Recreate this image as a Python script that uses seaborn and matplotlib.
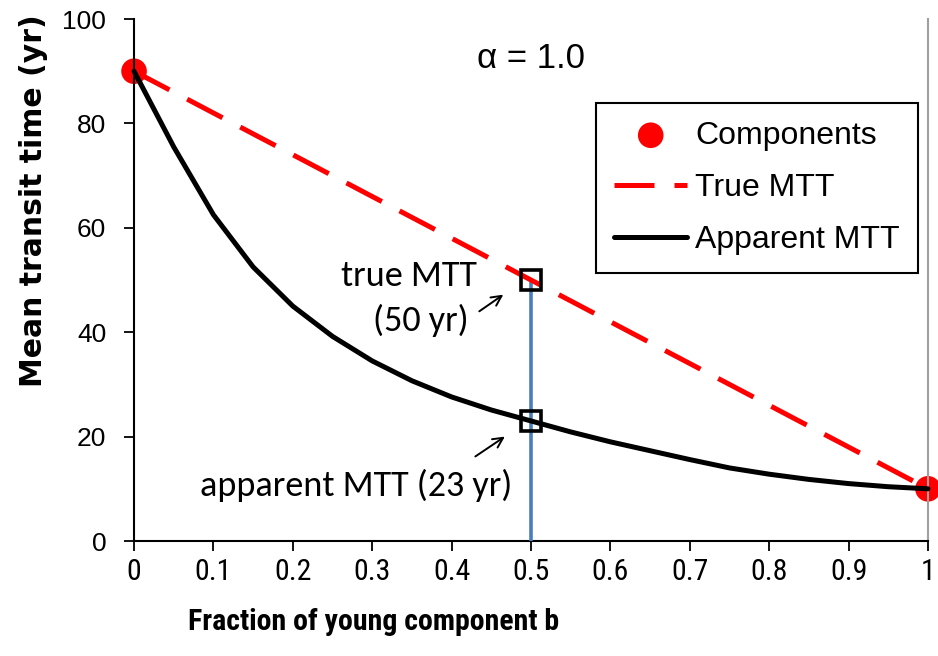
import numpy as np
import pandas as pd
import seaborn as sns
import matplotlib.pyplot as plt

# data
comp_b = [0, 1]
comp_mtt = [90, 10]
true_b = [0, 1]
true_mtt = [90, 10]
app_b = [0, 0.05, 0.1, 0.15, 0.2, 0.25, 0.3, 0.35, 0.4, 0.45, 0.5,
         0.55, 0.6, 0.65, 0.7, 0.75, 0.8, 0.85, 0.9, 0.95, 1.0]
app_mtt = [90, 75.5, 62.5, 52.5, 45, 39.2, 34.5, 30.7, 27.6, 25.1, 23,
           20.9, 19.0, 17.3, 15.6, 14.0, 12.8, 11.8, 11.0, 10.4, 10]
mark_b = [0.5, 0.5]
mark_mtt = [50, 23]

sns.set_style("white")
plt.rcParams['font.family'] = ['Liberation Sans', 'DejaVu Sans']
plt.rcParams['text.color'] = 'black'
plt.rcParams['axes.labelcolor'] = 'black'
plt.rcParams['xtick.color'] = 'black'
plt.rcParams['ytick.color'] = 'black'

narrow = ['Roboto Condensed', 'Liberation Sans']

fig = plt.figure(figsize=(9.38, 6.56), dpi=100)
ax = fig.add_axes([0.1429, 0.1753, 0.8464, 0.7957])

# blue vertical line at b = 0.5
sns.lineplot(x=[0.5, 0.5], y=[0, 50], estimator=None, sort=False,
             color='#4a7ebb', linewidth=2.6, ax=ax, zorder=3)

comp = pd.DataFrame({'b': comp_b, 'mtt': comp_mtt})
sns.scatterplot(data=comp, x='b', y='mtt', color='red', s=340, marker='o',
                edgecolor='none', label='Components', ax=ax, zorder=2, clip_on=False)
sns.lineplot(x=true_b, y=true_mtt, color='red', linewidth=3.6,
             label='True MTT', ax=ax, zorder=4)
ax.lines[-1].set_linestyle((0, (8, 4)))
app = pd.DataFrame({'b': app_b, 'mtt': app_mtt})
sns.lineplot(data=app, x='b', y='mtt', color='black', linewidth=3.6,
             label='Apparent MTT', ax=ax, zorder=5, clip_on=False)

ax.plot(mark_b, mark_mtt, linestyle='none', marker='s', markersize=14,
        markerfacecolor='none', markeredgecolor='black', markeredgewidth=2.6, zorder=6)

ax.set_xlim(0, 1)
ax.set_ylim(0, 100)
ax.set_xticks(np.arange(0, 1.01, 0.1))
ax.set_xticklabels(['0', '0.1', '0.2', '0.3', '0.4', '0.5', '0.6', '0.7', '0.8', '0.9', '1'],
                   family=narrow, fontsize=21.5)
ax.set_yticks([0, 20, 40, 60, 80, 100])
ax.set_yticklabels(['0', '20', '40', '60', '80', '100'], fontsize=19)
ax.tick_params(axis='both', direction='out', length=7, width=1.3, color='black')
ax.tick_params(axis='x', pad=5)
ax.tick_params(axis='y', pad=13)
ax.xaxis.set_ticks_position('bottom')
ax.yaxis.set_ticks_position('left')

for s in ['left', 'bottom']:
    ax.spines[s].set_color('black')
    ax.spines[s].set_linewidth(1.5)
ax.spines['top'].set_visible(False)
ax.spines['right'].set_color('#a0a0a0')
ax.spines['right'].set_linewidth(1.5)

ax.set_xlabel('Fraction of young component b', fontsize=21.5, fontweight='bold', family=narrow)
ax.set_ylabel('Mean transit time (yr)', fontsize=21.5, fontweight='bold', family='DejaVu Sans')
ax.xaxis.set_label_coords(0.302, -0.128)
ax.yaxis.set_label_coords(-0.108, 0.653)

ax.text(0.5, 0.925, 'α = 1.0', transform=ax.transAxes, fontsize=25,
        ha='center', va='center')

ann_font = ['Carlito', 'Open Sans', 'DejaVu Sans']
ax.text(0.432, 50.7, 'true MTT', fontsize=26, family=ann_font, ha='right', va='center')
ax.text(0.421, 42.2, '(50 yr)', fontsize=26, family=ann_font, ha='right', va='center')
ax.annotate('', xy=(0.468, 47.5), xytext=(0.432, 43.7),
            arrowprops=dict(arrowstyle='->', color='black', lw=1.4, mutation_scale=18))
ax.text(0.477, 10.6, 'apparent MTT (23 yr)', fontsize=26, family=ann_font,
        ha='right', va='center')
ax.annotate('', xy=(0.47, 20.3), xytext=(0.427, 15.9),
            arrowprops=dict(arrowstyle='->', color='black', lw=1.4, mutation_scale=18))

handles, labels = ax.get_legend_handles_labels()
order = [labels.index(l) for l in ['Components', 'True MTT', 'Apparent MTT']]
leg = ax.legend([handles[i] for i in order], [labels[i] for i in order],
                loc='upper right', bbox_to_anchor=(0.987, 0.839), fontsize=23,
                frameon=True, fancybox=False, edgecolor='black', framealpha=1,
                handlelength=2.3, handletextpad=0.25, labelspacing=0.7,
                borderpad=0.55, borderaxespad=0)
leg.get_frame().set_linewidth(1.5)

fig.savefig('out.png', dpi=100)
